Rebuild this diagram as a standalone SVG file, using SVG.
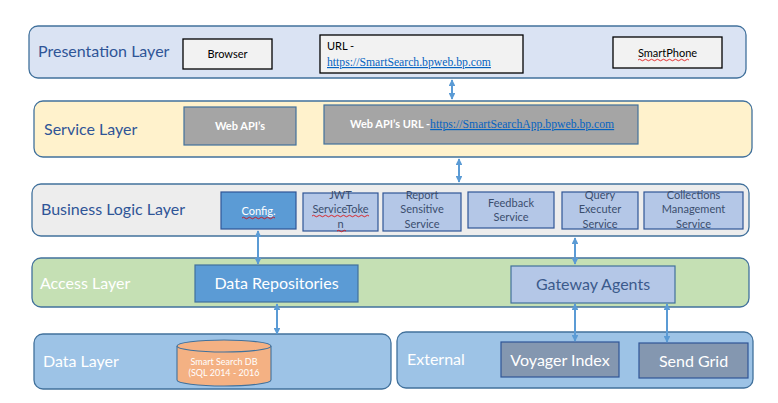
<svg xmlns="http://www.w3.org/2000/svg" width="778" height="403" viewBox="0 0 778 403">
<defs>
<marker id="ah" viewBox="0 0 10 10" refX="9" refY="5" markerWidth="3.4" markerHeight="3.4" orient="auto-start-reverse">
<path d="M0,0 L10,5 L0,10 z" fill="#5b9bd5"/>
</marker>
</defs>
<style>
.layer{stroke:#41719c;stroke-width:1.3}
.lbl{font-family:Lato,"Open Sans","Noto Sans",sans-serif;font-size:16px}
.dk{fill:#2f5597}
.wt{fill:#ffffff}
.box{stroke:#000;stroke-width:1.3;fill:#f2f2f2}
.sm{font-family:Lato,"Open Sans","Noto Sans",sans-serif;font-size:11px}
.svc{fill:#b4c7e7;stroke:#2f5597;stroke-width:1.2}
.svt{font-family:Lato,"Open Sans","Noto Sans",sans-serif;font-size:11px;fill:#3b4e6e;text-anchor:middle}
.link{font-family:"Liberation Serif",serif;font-size:11.7px;fill:#0563c1;text-decoration:underline}
.conn{stroke:#5b9bd5;stroke-width:2;fill:none;marker-start:url(#ah);marker-end:url(#ah)}
.sq{stroke:#e00000;stroke-width:0.8;fill:none}
</style>

<g id="presentation-layer">
<rect class="layer" x="29" y="26" width="717" height="52" rx="9" fill="#dae3f3"/>
<text class="lbl dk" x="38" y="57">Presentation Layer</text>
</g>
<g id="browser">
<rect class="box" x="183" y="39" width="89" height="30"/>
<text class="sm" x="227.5" y="58" text-anchor="middle" fill="#000">Browser</text>
</g>
<g id="url">
<rect class="box" x="320" y="35" width="203" height="38"/>
<text class="sm" x="327" y="50" fill="#000">URL -</text>
<text class="link" x="327" y="66">https://SmartSearch.bpweb.bp.com</text>
</g>
<g id="smartphone">
<rect class="box" x="613" y="37" width="109" height="31"/>
<text class="sm" x="667.5" y="57" text-anchor="middle" fill="#000">SmartPhone</text>
<path class="sq" d="M638,60 q1.5,-1.5 3,0 t3,0 t3,0 t3,0 t3,0 t3,0 t3,0 t3,0 t3,0 t3,0 t3,0 t3,0 t3,0 t3,0 t3,0 t3,0 t3,0"/>
</g>

<g id="service-layer">
<rect class="layer" x="34" y="101" width="718" height="56" rx="9" fill="#fff2cc"/>
<text class="lbl dk" x="44" y="135">Service Layer</text>
</g>
<g id="web-apis">
<rect x="184" y="107" width="112" height="38" fill="#a5a5a5" stroke="#41719c" stroke-width="1.2"/>
<text class="sm" x="240" y="130" text-anchor="middle" fill="#fff" font-weight="bold">Web API’s</text>
</g>
<g id="web-apis-url">
<rect x="324" y="105" width="314" height="39" fill="#a5a5a5" stroke="#41719c" stroke-width="1.2"/>
<text x="350" y="128"><tspan class="sm" fill="#fff" font-weight="bold">Web API’s URL -</tspan><tspan class="link">https://SmartSearchApp.bpweb.bp.com</tspan></text>
</g>

<g id="business-logic-layer">
<rect class="layer" x="32" y="184" width="717" height="52" rx="9" fill="#ededed"/>
<text class="lbl dk" x="41" y="215">Business Logic Layer</text>
</g>
<g id="config">
<rect x="221" y="192" width="75" height="37" fill="#5b9bd5" stroke="#2f5597" stroke-width="1.2"/>
<text class="sm" x="258.5" y="215" text-anchor="middle" fill="#fff">Config.</text>
<path class="sq" d="M242,218 q1.5,-1.5 3,0 t3,0 t3,0 t3,0 t3,0 t3,0 t3,0 t3,0 t3,0 t3,0 t3,0"/>
</g>
<g id="jwt">
<rect class="svc" x="303" y="193" width="75" height="38"/>
<text class="svt" x="340.5" y="199">JWT</text>
<text class="svt" x="340.5" y="213">ServiceToke</text>
<text class="svt" x="340.5" y="228">n</text>
<path class="sq" d="M312,216 q1.5,-1.5 3,0 t3,0 t3,0 t3,0 t3,0 t3,0 t3,0 t3,0 t3,0 t3,0 t3,0 t3,0 t3,0 t3,0 t3,0 t3,0 t3,0 t3,0 t3,0 M337,231 q1.5,-1.5 3,0 t3,0 t3,0"/>
</g>
<g id="report">
<rect class="svc" x="383" y="193" width="78" height="38"/>
<text class="svt" x="422" y="199">Report</text>
<text class="svt" x="422" y="213">Sensitive</text>
<text class="svt" x="422" y="228">Service</text>
</g>
<g id="feedback">
<rect class="svc" x="468" y="192" width="86" height="36"/>
<text class="svt" x="511" y="207">Feedback</text>
<text class="svt" x="511" y="221">Service</text>
</g>
<g id="query">
<rect class="svc" x="562" y="192" width="76" height="37"/>
<text class="svt" x="600" y="199">Query</text>
<text class="svt" x="600" y="213">Executer</text>
<text class="svt" x="600" y="228">Service</text>
</g>
<g id="collections">
<rect class="svc" x="644" y="192" width="99" height="37"/>
<text class="svt" x="693.5" y="199">Collections</text>
<text class="svt" x="693.5" y="213">Management</text>
<text class="svt" x="693.5" y="228">Service</text>
</g>

<g id="access-layer">
<rect class="layer" x="32" y="258" width="717" height="49" rx="9" fill="#c5e0b4"/>
<text class="lbl wt" x="40" y="289">Access Layer</text>
</g>
<g id="data-repositories">
<rect x="195" y="265" width="163" height="37" fill="#5b9bd5" stroke="#41719c" stroke-width="1.2"/>
<text class="lbl wt" x="276.5" y="289" text-anchor="middle">Data Repositories</text>
</g>
<g id="gateway-agents">
<rect x="511" y="266" width="164" height="37" fill="#b4c7e7" stroke="#41719c" stroke-width="1.2"/>
<text class="lbl" x="593" y="290" text-anchor="middle" fill="#3b5a8c">Gateway Agents</text>
</g>

<g id="data-layer">
<rect class="layer" x="34" y="334" width="357" height="55" rx="9" fill="#9dc3e6"/>
<text class="lbl wt" x="43" y="367">Data Layer</text>
</g>
<g id="smart-search-db">
<path d="M177,346 L177,380 A47,6 0 0 0 271,380 L271,346" fill="#f4b183" stroke="#41719c" stroke-width="1.1"/>
<ellipse cx="224" cy="346" rx="47" ry="6" fill="#f4b183" stroke="#41719c" stroke-width="1.1"/>
<text x="224" y="365" text-anchor="middle" fill="#fff" font-family="Lato,'Open Sans','Noto Sans',sans-serif" font-size="9px">Smart Search DB</text>
<text x="224" y="376" text-anchor="middle" fill="#fff" font-family="Lato,'Open Sans','Noto Sans',sans-serif" font-size="9px">(SQL 2014 - 2016</text>
</g>

<g id="external">
<rect class="layer" x="397" y="332" width="356" height="56" rx="9" fill="#9dc3e6"/>
<text class="lbl wt" x="407" y="365">External</text>
</g>
<g id="voyager-index">
<rect x="501" y="342" width="118" height="35" fill="#8497b0" stroke="#2f5597" stroke-width="1.2"/>
<text class="lbl wt" x="560" y="366" text-anchor="middle">Voyager Index</text>
</g>
<g id="send-grid">
<rect x="639" y="343" width="109" height="35" fill="#8497b0" stroke="#2f5597" stroke-width="1.2"/>
<text class="lbl wt" x="693.5" y="367" text-anchor="middle">Send Grid</text>
</g>

<g id="connectors">
<line class="conn" x1="452" y1="80" x2="452" y2="99"/>
<line class="conn" x1="459" y1="159" x2="459" y2="182"/>
<line class="conn" x1="258" y1="231" x2="258" y2="264"/>
<line class="conn" x1="575" y1="238" x2="575" y2="264"/>
<line class="conn" x1="277" y1="304" x2="277" y2="334"/>
<line class="conn" x1="575" y1="304" x2="575" y2="341"/>
<line class="conn" x1="667" y1="304" x2="667" y2="342"/>
</g>
</svg>
